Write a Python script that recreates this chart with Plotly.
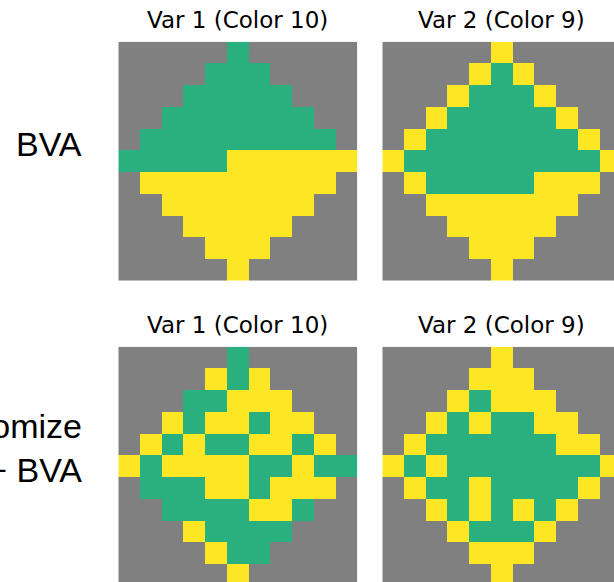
import plotly.graph_objects as go

# Cell codes: "." = outside region, "G" = colour 9 (green), "Y" = colour 10 (yellow)
row_labels = ["BVA", "Randomize<br>+ BVA"]
col_titles = ["Var 1 (Color 10)", "Var 2 (Color 9)"]

bva_var1 = [
    ".....G.....",
    "....GGG....",
    "...GGGGG...",
    "..GGGGGGG..",
    ".GGGGGGGGG.",
    "GGGGGYYYYYY",
    ".YYYYYYYYY.",
    "..YYYYYYY..",
    "...YYYYY...",
    "....YYY....",
    ".....Y.....",
]
bva_var2 = [
    ".....Y.....",
    "....YGY....",
    "...YGGGY...",
    "..YGGGGGY..",
    ".YGGGGGGGY.",
    "YGGGGGGGGGY",
    ".YGGGGGYYY.",
    "..YYYYYYY..",
    "...YYYYY...",
    "....YYY....",
    ".....Y.....",
]
rand_var1 = [
    ".....G.....",
    "....YGY....",
    "...GGYYY...",
    "..YGYYGYY..",
    ".YGYGGYYGY.",
    "YGYYYYGGYGG",
    ".GGGYYGYYY.",
    "..GGGGYYG..",
    "...YGGGG...",
    "....YGG....",
    ".....Y.....",
]
rand_var2 = [
    ".....Y.....",
    "....YYY....",
    "...YGYYY...",
    "..YGYGGYY..",
    ".YGGGGGGYY.",
    "YGYGGGGGGGY",
    ".YGGYGGGGY.",
    "..YGYGYGY..",
    "...YGGGY...",
    "....YYY....",
    ".....Y.....",
]

code = {".": 0, "G": 1, "Y": 2}
gray, green, yellow = "#808080", "#2ab07f", "#fde725"

W, H = 614, 582
n = 11
cell = 239.0 / n

# panel pixel geometry (left, top) for each (row, col)
lefts = [118.3, 382.3]
tops = [41.7, 346.7]

panels = [[bva_var1, bva_var2], [rand_var1, rand_var2]]

fig = go.Figure()
layout = {}
idx = 0
for r in range(2):
    for c in range(2):
        idx += 1
        grid = panels[r][c]
        z = [[code[ch] for ch in row] for row in grid]
        x0 = lefts[c]
        y0 = tops[r]
        x1 = min(x0 + n * cell, W)
        y1 = min(y0 + n * cell, H)
        xr = [-0.5, -0.5 + (x1 - x0) / cell]
        yr = [-0.5 + (y1 - y0) / cell, -0.5]
        xa = "x" if idx == 1 else f"x{idx}"
        ya = "y" if idx == 1 else f"y{idx}"
        fig.add_trace(go.Heatmap(
            z=z, x=list(range(n)), y=list(range(n)),
            colorscale=[[0, gray], [0.5, green], [1, yellow]],
            zmin=0, zmax=2, showscale=False, hoverinfo="skip",
            xaxis=xa, yaxis=ya,
        ))
        axis_common = dict(showgrid=False, zeroline=False, showticklabels=False,
                           ticks="", showline=False, fixedrange=True)
        layout["xaxis" if idx == 1 else f"xaxis{idx}"] = dict(
            domain=[x0 / W, x1 / W], range=xr, anchor=ya, **axis_common)
        layout["yaxis" if idx == 1 else f"yaxis{idx}"] = dict(
            domain=[1 - y1 / H, 1 - y0 / H], range=yr, anchor=xa, **axis_common)

annotations = []
# column titles above each panel
for r in range(2):
    for c in range(2):
        cx = lefts[c] + n * cell / 2
        annotations.append(dict(
            text=col_titles[c], x=cx / W, y=1 - (tops[r] - 21.5) / H,
            xref="paper", yref="paper", xanchor="center", yanchor="middle",
            showarrow=False, font=dict(family="DejaVu Sans", size=23, color="black"),
        ))
# row labels, right-aligned to the left of the panels
label_font = dict(family="Liberation Sans", size=34, color="black")
annotations.append(dict(
    text=row_labels[0], x=84 / W, y=1 - 144 / H,
    xref="paper", yref="paper", xanchor="right", yanchor="middle", align="right",
    showarrow=False, font=label_font,
))
annotations.append(dict(
    text=row_labels[1], x=84 / W, y=1 - 448 / H,
    xref="paper", yref="paper", xanchor="right", yanchor="middle", align="right",
    showarrow=False, font=label_font,
))

fig.update_layout(
    width=W, height=H, margin=dict(l=0, r=0, t=0, b=0),
    paper_bgcolor="white", plot_bgcolor="white",
    showlegend=False, annotations=annotations, **layout,
)

fig.write_html("out.html", config={"displayModeBar": False})
